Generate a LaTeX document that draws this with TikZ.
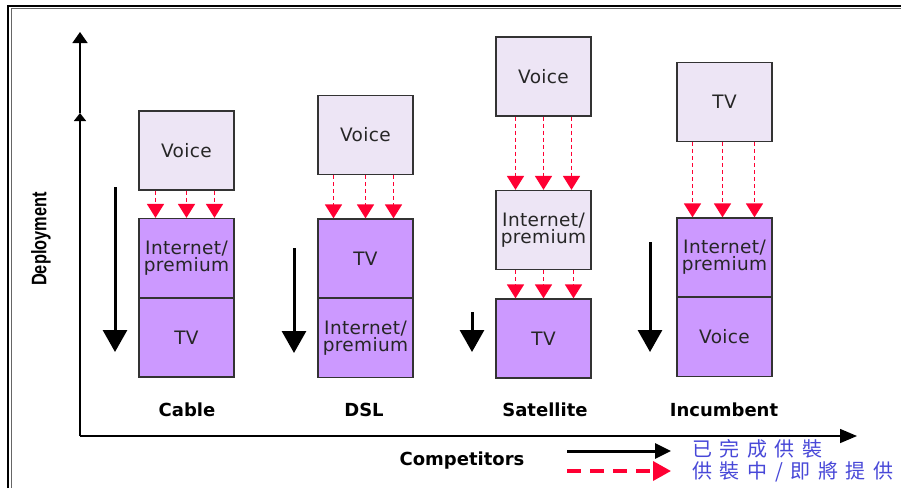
\documentclass[tikz,border=0pt]{standalone}
\usepackage{fontspec}
\setmainfont{DejaVu Sans}
\newfontfamily\boxfont{DejaVu Sans}[LetterSpace=2]
\newfontfamily\cjkfont{Noto Sans CJK TC}
\newfontfamily\narrowfont{Liberation Sans}
\usetikzlibrary{arrows.meta}
\definecolor{lightbox}{RGB}{237,229,245}
\definecolor{purplebox}{RGB}{204,153,255}
\definecolor{redarr}{RGB}{255,0,51}
\definecolor{legblue}{RGB}{72,72,216}
\begin{document}
\begin{tikzpicture}[x=1pt,y=-1pt,
  box/.style={draw=black!80, line width=1.3pt, minimum width=95pt, minimum height=79pt,
    inner sep=0pt, align=center, font=\boxfont\fontsize{18.5}{17}\selectfont, text=black!85},
  lightb/.style={box, fill=lightbox},
  purpb/.style={box, fill=purplebox},
  redarrow/.style={draw=redarr, line width=1.8pt, dash pattern=on 4pt off 3pt,
    -{Triangle[length=14pt,width=17pt]}},
  downarrow/.style={line width=3pt, -{Triangle[length=22pt,width=24pt]}},
  collabel/.style={font=\bfseries\fontsize{18}{18}\selectfont, inner sep=0pt},
  axisline/.style={line width=1.5pt},
  legtext/.style={anchor=west, inner sep=0pt, text=legblue, font=\cjkfont\fontsize{20}{20}\selectfont}
]
\useasboundingbox (0,0) rectangle (901,488);
\fill[white] (0,0) rectangle (901,488);
% frame
\draw[line width=2pt] (8,488) -- (8,5.5) -- (901,5.5);
\draw[line width=1pt, black!60] (11.5,488) -- (11.5,8.5) -- (901,8.5);

% axes
\coordinate (O) at (80,436);
\coordinate (ymid) at (80,113);
\coordinate (ytop) at (80,32);
\coordinate (xend) at (857,436);
\draw[axisline, -{Triangle[length=8pt,width=12pt]}] (O) -- (ymid);
\draw[axisline, -{Triangle[length=11pt,width=15pt]}] (ymid) -- (ytop);
\draw[axisline, -{Triangle[length=17pt,width=14pt]}] (O) -- (xend);

\node[rotate=90, inner sep=0pt, font=\narrowfont\bfseries\fontsize{21}{21}\selectfont] (ylab) at (41,239) {\scalebox{0.78}[1]{Deployment}};
\node[collabel] (xlab) at (462,461) {Competitors};

% Cable
\node[lightb] (cv) at (186.5,150.5) {Voice};
\node[purpb] (ci) at (186.5,258) {Internet/\\premium};
\node[purpb] (ct) at (186.5,337.5) {TV};
\foreach \d in {-31,0,28} \draw[redarrow] ([xshift=\d pt]cv.south) -- ([xshift=\d pt]ci.north);
\coordinate (ca1) at (115,187);
\coordinate (ca2) at (115,352);
\draw[downarrow] (ca1) -- (ca2);
\node[collabel] (cl) at (187,410) {Cable};

% DSL
\node[lightb] (dv) at (365.5,135) {Voice};
\node[purpb] (dt) at (365.5,258.5) {TV};
\node[purpb] (di) at (365.5,338) {Internet/\\premium};
\foreach \d in {-32,0,28} \draw[redarrow] ([xshift=\d pt]dv.south) -- ([xshift=\d pt]dt.north);
\coordinate (da1) at (294,248);
\coordinate (da2) at (294,353);
\draw[downarrow] (da1) -- (da2);
\node[collabel] (dl) at (364,410) {DSL};

% Satellite
\node[lightb] (sv) at (543.5,76.5) {Voice};
\node[lightb] (si) at (543.5,230) {Internet/\\premium};
\node[purpb] (st) at (543.5,338.5) {TV};
\foreach \d in {-28,0,28} \draw[redarrow] ([xshift=\d pt]sv.south) -- ([xshift=\d pt]si.north);
\foreach \d in {-28,0,30} \draw[redarrow] ([xshift=\d pt]si.south) -- ([xshift=\d pt]st.north);
\coordinate (sa1) at (472,312);
\coordinate (sa2) at (472,352);
\draw[downarrow] (sa1) -- (sa2);
\node[collabel] (sl) at (545,410) {Satellite};

% Incumbent
\node[lightb] (it) at (724.5,102) {TV};
\node[purpb] (ii) at (724.5,257.5) {Internet/\\premium};
\node[purpb] (iv) at (724.5,337) {Voice};
\foreach \d in {-32,-2,30} \draw[redarrow] ([xshift=\d pt]it.south) -- ([xshift=\d pt]ii.north);
\coordinate (ia1) at (650,242);
\coordinate (ia2) at (650,352);
\draw[downarrow] (ia1) -- (ia2);
\node[collabel] (il) at (724,410) {Incumbent};

% legend
\coordinate (l1s) at (567,451);
\coordinate (l1e) at (671,451);
\coordinate (l2s) at (567,471);
\coordinate (l2e) at (671,471);
\draw[line width=3pt, -{Triangle[length=16pt,width=15pt]}] (l1s) -- (l1e);
\draw[line width=3.5pt, redarr, dash pattern=on 14pt off 9pt, -{Triangle[length=18pt,width=19pt]}] (l2s) -- (l2e);
\node[legtext] (lt1) at (692,449) {已\kern7.5pt 完\kern7.5pt 成\kern7.5pt 供\kern7.5pt 裝};
\node[legtext] (lt2) at (692,472) {供\kern7.6pt 裝\kern7.6pt 中\kern7.6pt /\kern7.6pt 即\kern7.6pt 將\kern7.6pt 提\kern7.6pt 供};
\end{tikzpicture}
\end{document}
